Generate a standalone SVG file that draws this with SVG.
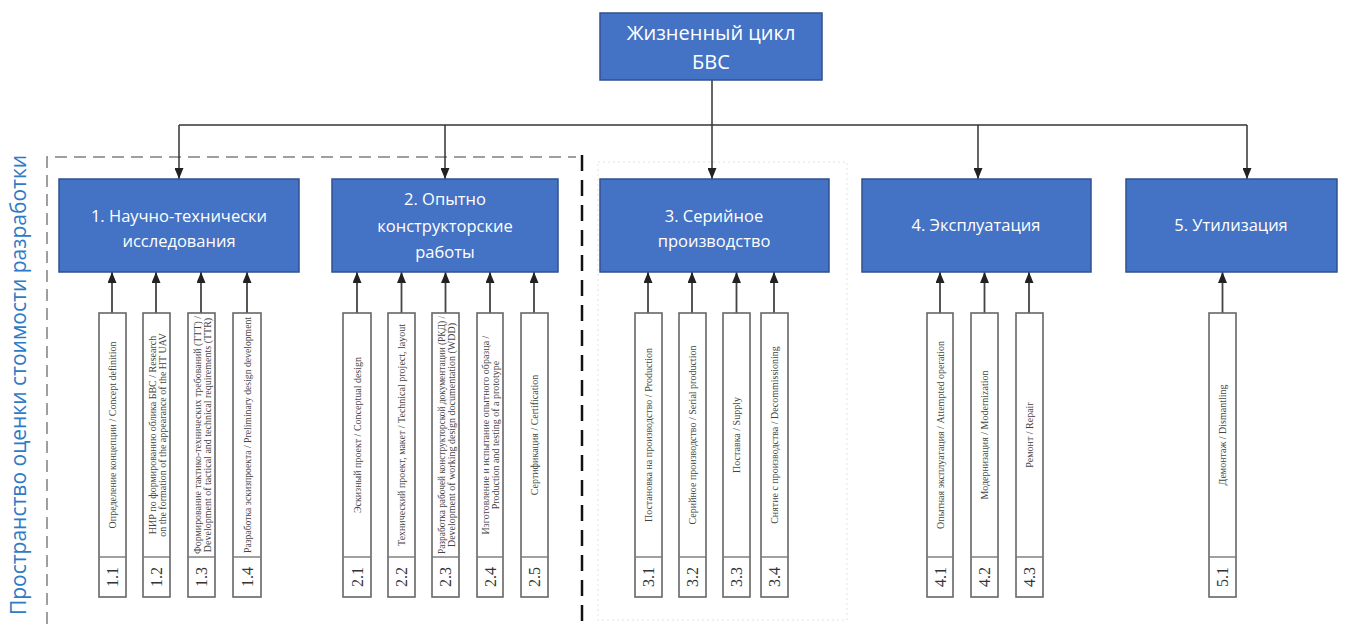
<svg xmlns="http://www.w3.org/2000/svg" width="1346" height="624" viewBox="0 0 1346 624">
<defs>
<marker id="arr" markerUnits="userSpaceOnUse" markerWidth="11" markerHeight="9" refX="11" refY="4.5" orient="auto">
<path d="M0,0 L11,4.5 L0,9 z" fill="#222"/>
</marker>
<style>
.main rect{fill:#4472C4;stroke:#2F528F;stroke-width:1.5}
.main text{fill:#fff;font-family:"Open Sans","Noto Sans",sans-serif;font-size:16.5px;text-anchor:middle;dominant-baseline:central}
.top text{font-size:20px}
.sub rect{fill:#fff;stroke:#666;stroke-width:1.6}
.sub line{stroke:#777;stroke-width:1.4}
.sub text{fill:#444;font-family:"Liberation Serif",serif;font-size:10px;text-anchor:middle;dominant-baseline:central}
.sub text.num{font-size:16px;fill:#333}
.conn path{fill:none;stroke:#333;stroke-width:1.5}
.conn .up{stroke:#444;stroke-width:1.8}
.label{fill:#2E7BC6;font-family:"Open Sans","Noto Sans",sans-serif;font-size:21px;text-anchor:middle;dominant-baseline:central}
</style>
</defs>
<rect width="1346" height="624" fill="#fff"/>

<!-- region frames -->
<g id="frames">
<path d="M47,624 V157 H576" fill="none" stroke="#808080" stroke-width="1.5" stroke-dasharray="12 7"/>
<path d="M582,155 V624" fill="none" stroke="#111" stroke-width="2.5" stroke-dasharray="16 9"/>
<rect x="598" y="162" width="249" height="458" fill="none" stroke="#e2e2e2" stroke-width="1" stroke-dasharray="2 3"/>
</g>

<text class="label" transform="translate(18,385) rotate(-90)">Пространство оценки стоимости разработки</text>

<g class="conn" id="connectors">
<path d="M712,80 V125"/>
<path d="M179,125 H1247"/>
<path d="M179,125 V179" marker-end="url(#arr)"/>
<path d="M445,125 V179" marker-end="url(#arr)"/>
<path d="M712,125 V179" marker-end="url(#arr)"/>
<path d="M978,125 V179" marker-end="url(#arr)"/>
<path d="M1247,125 V179" marker-end="url(#arr)"/>
<path class="up" d="M112,313 V272" marker-end="url(#arr)"/>
<path class="up" d="M156,313 V272" marker-end="url(#arr)"/>
<path class="up" d="M201,313 V272" marker-end="url(#arr)"/>
<path class="up" d="M247,313 V272" marker-end="url(#arr)"/>
<path class="up" d="M357,313 V272" marker-end="url(#arr)"/>
<path class="up" d="M401.5,313 V272" marker-end="url(#arr)"/>
<path class="up" d="M445.5,313 V272" marker-end="url(#arr)"/>
<path class="up" d="M490,313 V272" marker-end="url(#arr)"/>
<path class="up" d="M534,313 V272" marker-end="url(#arr)"/>
<path class="up" d="M648,313 V272" marker-end="url(#arr)"/>
<path class="up" d="M692,313 V272" marker-end="url(#arr)"/>
<path class="up" d="M736.5,313 V272" marker-end="url(#arr)"/>
<path class="up" d="M774,313 V272" marker-end="url(#arr)"/>
<path class="up" d="M940,313 V272" marker-end="url(#arr)"/>
<path class="up" d="M984.5,313 V272" marker-end="url(#arr)"/>
<path class="up" d="M1029,313 V272" marker-end="url(#arr)"/>
<path class="up" d="M1222.5,313 V272" marker-end="url(#arr)"/>
</g>

<g id="root" class="main top">
<rect x="600" y="13" width="222" height="67"/>
<text x="711" y="32">Жизненный цикл</text>
<text x="711" y="61">БВС</text>
</g>

<g id="stage1" class="main">
<rect x="59" y="179" width="240" height="93"/>
<text x="179" y="215">1. Научно-технически</text>
<text x="179" y="240">исследования</text>
</g>
<g id="stage2" class="main">
<rect x="332" y="179" width="226" height="93"/>
<text x="445" y="198">2. Опытно</text>
<text x="445" y="225">конструкторские</text>
<text x="445" y="251">работы</text>
</g>
<g id="stage3" class="main">
<rect x="600" y="179" width="229" height="93"/>
<text x="714" y="215">3. Серийное</text>
<text x="714" y="240">производство</text>
</g>
<g id="stage4" class="main">
<rect x="862" y="179" width="229" height="93"/>
<text x="976" y="224">4. Эксплуатация</text>
</g>
<g id="stage5" class="main">
<rect x="1126" y="179" width="211" height="93"/>
<text x="1231" y="224">5. Утилизация</text>
</g>

<!-- sub-items -->
<g id="s1-1" class="sub"><rect x="99" y="313" width="27" height="284"/><line x1="99" y1="557" x2="126" y2="557"/>
<text transform="translate(112.5,435) rotate(-90)">Определение концепции / Concept definition</text>
<text class="num" transform="translate(112.5,577) rotate(-90)">1.1</text></g>
<g id="s1-2" class="sub"><rect x="143" y="313" width="27" height="284"/><line x1="143" y1="557" x2="170" y2="557"/>
<text transform="translate(156.5,435) rotate(-90)"><tspan x="0" y="-5">НИР по формированию облика БВС / Research</tspan><tspan x="0" y="5">on the formation of the appearance of the HT UAV</tspan></text>
<text class="num" transform="translate(156.5,577) rotate(-90)">1.2</text></g>
<g id="s1-3" class="sub"><rect x="188" y="313" width="27" height="284"/><line x1="188" y1="557" x2="215" y2="557"/>
<text transform="translate(201.5,435) rotate(-90)"><tspan x="0" y="-5" textLength="238" lengthAdjust="spacingAndGlyphs">Формирование тактико-технических требований (ТТТ) /</tspan><tspan x="0" y="5">Development of tactical and technical requirements (TTR)</tspan></text>
<text class="num" transform="translate(201.5,577) rotate(-90)">1.3</text></g>
<g id="s1-4" class="sub"><rect x="233" y="313" width="28" height="284"/><line x1="233" y1="557" x2="261" y2="557"/>
<text transform="translate(247,435) rotate(-90)" textLength="236" lengthAdjust="spacingAndGlyphs">Разработка эскизпроекта / Preliminary design development</text>
<text class="num" transform="translate(247,577) rotate(-90)">1.4</text></g>

<g id="s2-1" class="sub"><rect x="343" y="313" width="28" height="284"/><line x1="343" y1="557" x2="371" y2="557"/>
<text transform="translate(357,435) rotate(-90)">Эскизный проект / Conceptual design</text>
<text class="num" transform="translate(357,577) rotate(-90)">2.1</text></g>
<g id="s2-2" class="sub"><rect x="388" y="313" width="27" height="284"/><line x1="388" y1="557" x2="415" y2="557"/>
<text transform="translate(401.5,435) rotate(-90)">Технический проект, макет / Technical project, layout</text>
<text class="num" transform="translate(401.5,577) rotate(-90)">2.2</text></g>
<g id="s2-3" class="sub"><rect x="432" y="313" width="27" height="284"/><line x1="432" y1="557" x2="459" y2="557"/>
<text transform="translate(445.5,435) rotate(-90)"><tspan x="0" y="-5" textLength="238" lengthAdjust="spacingAndGlyphs">Разработка рабочей конструкторской документации (РКД) /</tspan><tspan x="0" y="5">Development of working design documentation (WDD)</tspan></text>
<text class="num" transform="translate(445.5,577) rotate(-90)">2.3</text></g>
<g id="s2-4" class="sub"><rect x="477" y="313" width="26" height="284"/><line x1="477" y1="557" x2="503" y2="557"/>
<text transform="translate(490,435) rotate(-90)"><tspan x="0" y="-5">Изготовление и испытание опытного образца /</tspan><tspan x="0" y="5">Production and testing of a prototype</tspan></text>
<text class="num" transform="translate(490,577) rotate(-90)">2.4</text></g>
<g id="s2-5" class="sub"><rect x="521" y="313" width="27" height="284"/><line x1="521" y1="557" x2="548" y2="557"/>
<text transform="translate(534.5,435) rotate(-90)">Сертификация / Certification</text>
<text class="num" transform="translate(534.5,577) rotate(-90)">2.5</text></g>

<g id="s3-1" class="sub"><rect x="635" y="313" width="27" height="284"/><line x1="635" y1="557" x2="662" y2="557"/>
<text transform="translate(648.5,435) rotate(-90)">Постановка на производство / Production</text>
<text class="num" transform="translate(648.5,577) rotate(-90)">3.1</text></g>
<g id="s3-2" class="sub"><rect x="679" y="313" width="27" height="284"/><line x1="679" y1="557" x2="706" y2="557"/>
<text transform="translate(692.5,435) rotate(-90)">Серийное производство / Serial production</text>
<text class="num" transform="translate(692.5,577) rotate(-90)">3.2</text></g>
<g id="s3-3" class="sub"><rect x="723" y="313" width="27" height="284"/><line x1="723" y1="557" x2="750" y2="557"/>
<text transform="translate(736.5,435) rotate(-90)">Поставка / Supply</text>
<text class="num" transform="translate(736.5,577) rotate(-90)">3.3</text></g>
<g id="s3-4" class="sub"><rect x="761" y="313" width="27" height="284"/><line x1="761" y1="557" x2="788" y2="557"/>
<text transform="translate(774.5,435) rotate(-90)">Снятие с производства / Decommissioning</text>
<text class="num" transform="translate(774.5,577) rotate(-90)">3.4</text></g>

<g id="s4-1" class="sub"><rect x="927" y="313" width="26" height="284"/><line x1="927" y1="557" x2="953" y2="557"/>
<text transform="translate(940,435) rotate(-90)">Опытная эксплуатация / Attempted operation</text>
<text class="num" transform="translate(940,577) rotate(-90)">4.1</text></g>
<g id="s4-2" class="sub"><rect x="971" y="313" width="27" height="284"/><line x1="971" y1="557" x2="998" y2="557"/>
<text transform="translate(984.5,435) rotate(-90)">Модернизация / Modernization</text>
<text class="num" transform="translate(984.5,577) rotate(-90)">4.2</text></g>
<g id="s4-3" class="sub"><rect x="1016" y="313" width="27" height="284"/><line x1="1016" y1="557" x2="1043" y2="557"/>
<text transform="translate(1029.5,435) rotate(-90)">Ремонт / Repair</text>
<text class="num" transform="translate(1029.5,577) rotate(-90)">4.3</text></g>

<g id="s5-1" class="sub"><rect x="1209" y="313" width="27" height="284"/><line x1="1209" y1="557" x2="1236" y2="557"/>
<text transform="translate(1222.5,435) rotate(-90)">Демонтаж / Dismantling</text>
<text class="num" transform="translate(1222.5,577) rotate(-90)">5.1</text></g>
</svg>
